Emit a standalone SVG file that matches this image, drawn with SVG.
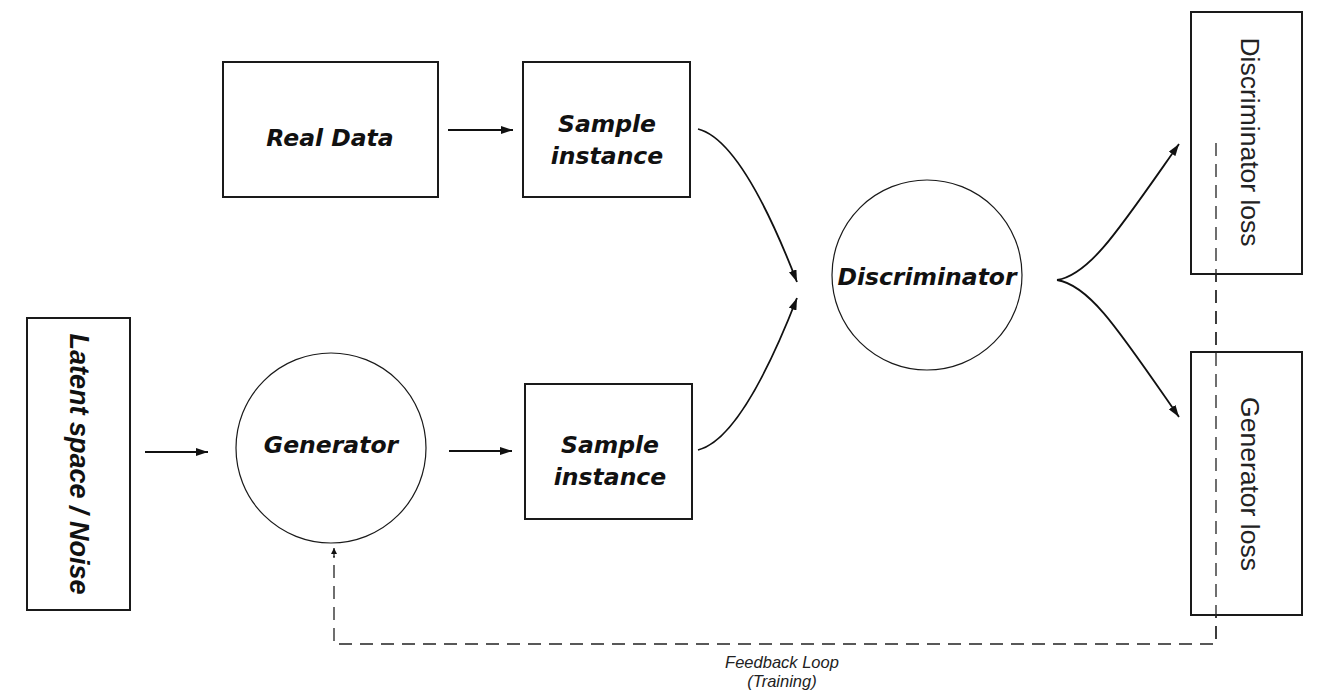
<svg xmlns="http://www.w3.org/2000/svg" width="1319" height="691" viewBox="0 0 1319 691">
  <style>
    .box { fill: #fff; stroke: #1a1a1a; stroke-width: 2; }
    .circ { fill: #fff; stroke: #1a1a1a; stroke-width: 1.2; }
    .label { font-family: "DejaVu Sans", "Liberation Sans", sans-serif; font-weight: bold; font-style: oblique; font-size: 23.5px; fill: #111; text-anchor: middle; }
    .latent { font-family: "Liberation Sans", Arial, sans-serif; font-weight: bold; font-style: italic; font-size: 27px; fill: #111; text-anchor: middle; }
    .loss { font-family: "Liberation Sans", Arial, sans-serif; font-size: 26.5px; fill: #222; text-anchor: middle; }
    .note { font-family: "Liberation Sans", Arial, sans-serif; font-style: italic; font-size: 16.5px; fill: #222; text-anchor: middle; }
    .edge { fill: none; stroke: #111; stroke-width: 1.8; }
    .dash { fill: none; stroke: #222; stroke-width: 1.3; stroke-dasharray: 13 8; }
  </style>
  <defs>
    <marker id="arrow" viewBox="0 0 12 8" refX="12" refY="4" markerWidth="12" markerHeight="8" markerUnits="userSpaceOnUse" orient="auto">
      <path d="M0,0 L12,4 L0,8 Z" fill="#111"/>
    </marker>
    <marker id="arrow-small" viewBox="0 0 6 6" refX="6" refY="3" markerWidth="6" markerHeight="6" markerUnits="userSpaceOnUse" orient="auto">
      <path d="M0,0 L6,3 L0,6 Z" fill="#111"/>
    </marker>
  </defs>

  <rect width="1319" height="691" fill="#fff"/>

  <!-- connectors -->
  <g id="connectors">
    <line class="edge" x1="145" y1="452" x2="208" y2="452" marker-end="url(#arrow)"/>
    <line class="edge" x1="448" y1="130" x2="513" y2="130" marker-end="url(#arrow)"/>
    <line class="edge" x1="449" y1="451" x2="512" y2="451" marker-end="url(#arrow)"/>
    <path class="edge" d="M698,129 Q742,140 797,282" marker-end="url(#arrow)"/>
    <path class="edge" d="M698,450 Q742,439 797,298" marker-end="url(#arrow)"/>
    <path class="edge" d="M1057,280 C1090,275 1120,228 1179,144" marker-end="url(#arrow)"/>
    <path class="edge" d="M1057,280 C1090,285 1120,332 1179,417" marker-end="url(#arrow)"/>
    <!-- feedback loop from the loss boxes back to the generator -->
    <path class="dash" d="M1216,143 L1216,644 L334,644 L334,556"/>
    <line x1="334" y1="558" x2="334" y2="548" stroke="#111" stroke-width="1.2" marker-end="url(#arrow-small)"/>
    <text class="note" x="782" y="668">Feedback Loop</text>
    <text class="note" x="782" y="687">(Training)</text>
  </g>

  <g id="latent">
    <rect class="box" x="27" y="318" width="103" height="292"/>
    <text class="latent" transform="translate(70,464) rotate(90)">Latent space / Noise</text>
  </g>

  <g id="generator">
    <circle class="circ" cx="331" cy="448" r="95"/>
    <text class="label" x="331" y="453">Generator</text>
  </g>

  <g id="real-data">
    <rect class="box" x="223" y="62" width="215" height="135"/>
    <text class="label" x="330" y="146">Real Data</text>
  </g>

  <g id="sample-real">
    <rect class="box" x="523" y="62" width="167" height="135"/>
    <text class="label" x="607" y="132">Sample</text>
    <text class="label" x="607" y="164">instance</text>
  </g>

  <g id="sample-fake">
    <rect class="box" x="525" y="384" width="167" height="135"/>
    <text class="label" x="610" y="453">Sample</text>
    <text class="label" x="610" y="485">instance</text>
  </g>

  <g id="discriminator">
    <circle class="circ" cx="927" cy="275" r="95"/>
    <text class="label" x="927" y="285">Discriminator</text>
  </g>

  <g id="discriminator-loss">
    <rect class="box" x="1191" y="12" width="111" height="262"/>
    <text class="loss" transform="translate(1241,142) rotate(90)">Discriminator loss</text>
  </g>

  <g id="generator-loss">
    <rect class="box" x="1191" y="352" width="111" height="263"/>
    <text class="loss" transform="translate(1241,484) rotate(90)">Generator loss</text>
  </g>

  <!-- dashed run crossing the loss boxes is drawn on top of them -->
  <path class="dash" d="M1216,143 L1216,644"/>
</svg>
